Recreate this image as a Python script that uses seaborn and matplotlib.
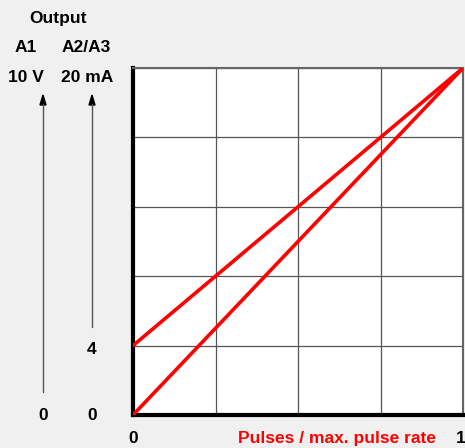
import matplotlib
matplotlib.use("Agg")
import matplotlib.pyplot as plt
import seaborn as sns
import pandas as pd

# Data
pulse_ratio = [0, 1]
output_a1 = [0, 1]        # 0..10 V
output_a2a3 = [0.2, 1]    # 4..20 mA
x_ticks = ["0", "1"]

sns.set_style("white")
plt.rcParams['font.family'] = ['Liberation Sans Narrow', 'Liberation Sans', 'DejaVu Sans']
plt.rcParams['font.weight'] = 'bold'

W, H = 465, 448
fig = plt.figure(figsize=(W / 100, H / 100), dpi=100, facecolor='#f0f0f0')
ax = fig.add_axes([133 / W, (H - 415) / H, 330 / W, 347 / H])
ax.set_facecolor('white')

df = pd.DataFrame({'x': pulse_ratio * 2,
                   'y': output_a1 + output_a2a3,
                   's': ['A1'] * 2 + ['A2/A3'] * 2})
sns.lineplot(data=df, x='x', y='y', units='s', estimator=None, color='#ff0000',
             linewidth=2.6, ax=ax, legend=False, zorder=3)

ax.set_xlim(0, 1)
ax.set_ylim(0, 1)
ax.set_xticks([0, 0.25, 0.5, 0.75, 1])
ax.set_yticks([0, 0.2, 0.4, 0.6, 0.8, 1])
ax.grid(True, color='#555555', linewidth=0.9)
ax.tick_params(length=0, labelleft=False, labelbottom=False)
ax.set_xlabel('')
ax.set_ylabel('')
for side in ['left', 'bottom']:
    ax.spines[side].set_color('black')
    ax.spines[side].set_linewidth(3)
for side in ['top', 'right']:
    ax.spines[side].set_color('#666666')
    ax.spines[side].set_linewidth(1.5)


def px(x, y):
    return x / W, 1 - y / H


def label(x, y, s, color='black', ha='center'):
    fig.text(*px(x, y), s, ha=ha, va='center', fontsize=12.5, fontweight='bold', color=color)


label(58, 18, 'Output')
label(26, 48, 'A1')
label(86, 48, 'A2/A3')
label(26, 78, '10 V')
label(87, 78, '20 mA')
label(92, 349, '4')
label(43, 415, '0')
label(92, 415, '0')
label(133, 438, x_ticks[0])
label(461, 438, x_ticks[1])
label(337, 438, 'Pulses / max. pulse rate', color='#ff0000')

for xa, yb in [(43, 392), (92, 327)]:
    fig.add_artist(plt.Line2D([xa / W, xa / W], [1 - yb / H, 1 - 104 / H],
                              color='#555555', linewidth=1))
    fig.patches.append(matplotlib.patches.FancyArrow(
        xa / W, 1 - 105 / H, 0, 10 / H, width=0, head_width=6 / W, head_length=10 / H,
        length_includes_head=True, color='black', transform=fig.transFigure, figure=fig))

fig.savefig('out.png', dpi=100, facecolor=fig.get_facecolor())
